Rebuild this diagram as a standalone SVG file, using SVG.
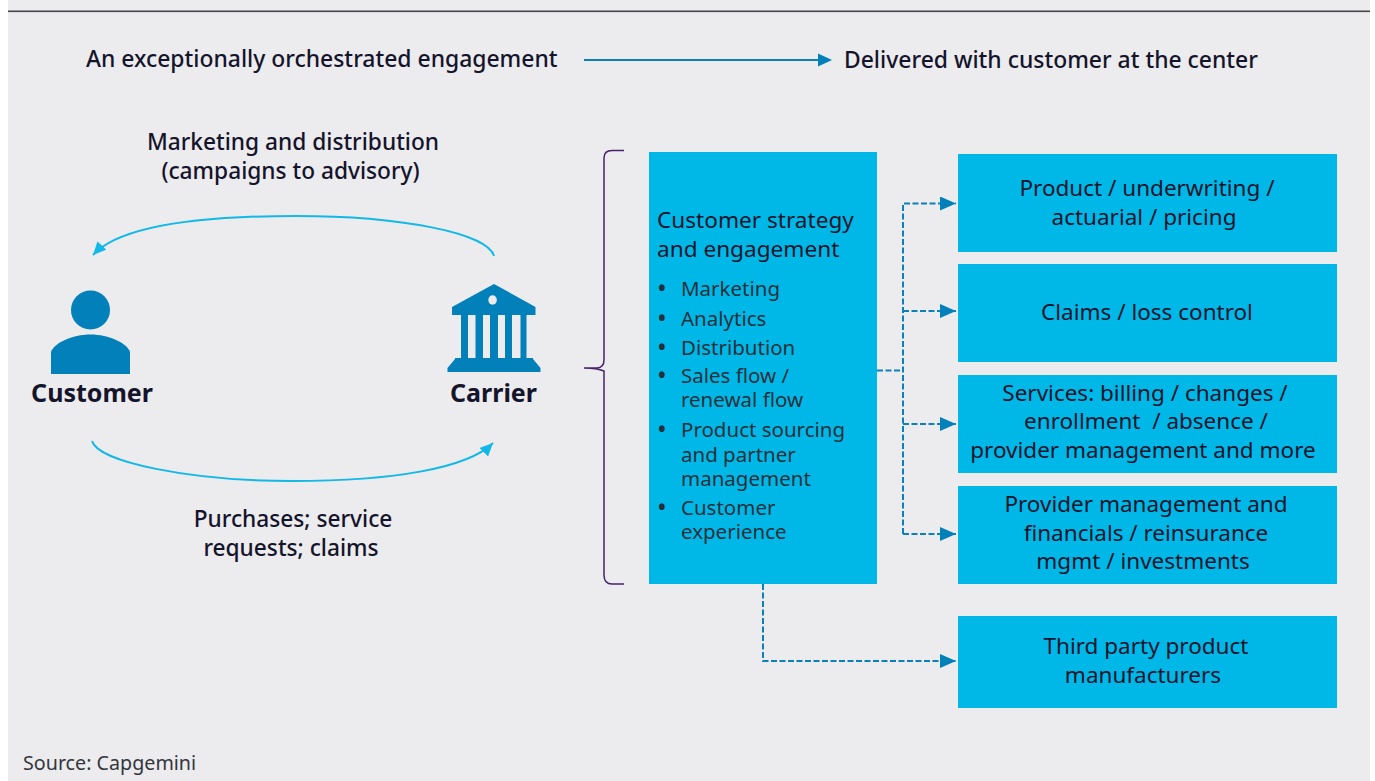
<svg xmlns="http://www.w3.org/2000/svg" width="1375" height="781" viewBox="0 0 1375 781">
<style>
text{font-family:"Noto Sans","Open Sans","Liberation Sans",sans-serif;fill:#14142b}
.h{font-size:22.9px;font-weight:500}
.m{font-size:22.5px;text-anchor:middle}
.mh{font-size:22.7px;font-weight:500;text-anchor:middle}
.b{font-size:25px;font-weight:700;text-anchor:middle}
.l{font-size:20.5px;fill:#22303a}
.bu{font-size:20.5px;font-weight:700;fill:#22303a}
.box{fill:#00b8e8}
.d{fill:none;stroke:#0c80ba;stroke-width:2;stroke-dasharray:6 2.5}
.c{fill:none;stroke:#12b9e8;stroke-width:2}
.ic{fill:#0280ba}
</style>
<defs>
<marker id="ad" markerUnits="userSpaceOnUse" markerWidth="16" markerHeight="14" refX="16" refY="7" orient="auto"><path d="M0 0L16 7L0 14Z" fill="#0280ba"/></marker>
<marker id="ac" markerUnits="userSpaceOnUse" markerWidth="13" markerHeight="14" refX="13" refY="6" orient="auto"><path d="M0 0L13 6L0 12Z" fill="#12b9e8"/></marker>
</defs>
<rect width="1375" height="781" fill="#fff"/>
<rect x="8" width="1362" height="781" fill="#ecebee"/>
<rect x="8" y="10.5" width="1362" height="1.6" fill="#44464c"/>
<text class="h" x="86" y="67">An exceptionally orchestrated engagement</text>
<text class="h" x="844" y="68">Delivered with customer at the center</text>
<g id="connectors">
<path d="M584 60H825" fill="none" stroke="#0c80ba" stroke-width="2"/>
<path d="M818 53.500L832 60L818 66.500Z" class="ic"/>
<path class="c" d="M494 256C488 233 400 216 296 216C192 216 118 228 93 255" marker-end="url(#ac)"/>
<path class="c" d="M92 441C98 462 190 481 292 481C394 481 468 468 493 443" marker-end="url(#ac)"/>
<path d="M624 150.500H612Q604 150.500 604 158V360Q604 367.500 597 368H584Q597 368 604 371V575Q604 584 612 584H624" fill="none" stroke="#46236a" stroke-width="1.500"/>
<path class="d" d="M877 370.500H903"/>
<path class="d" d="M903 534V203.500H956" marker-end="url(#ad)"/>
<path class="d" d="M903 311H956" marker-end="url(#ad)"/>
<path class="d" d="M903 424H956" marker-end="url(#ad)"/>
<path class="d" d="M903 534H956" marker-end="url(#ad)"/>
<path class="d" d="M763 584V661H956" marker-end="url(#ad)"/>
</g>
<g id="customer">
<ellipse class="ic" cx="90.500" cy="310" rx="19.500" ry="19.500"/>
<path class="ic" d="M51 374V352C54 343 72 334.500 90.500 334.500C109 334.500 127 343 130 352V374Z"/>
<text class="b" x="92" y="402">Customer</text>
</g>
<g id="carrier">
<path class="ic" d="M494 284L535.500 307V315H452V307Z"/>
<ellipse cx="492.600" cy="300" rx="4.300" ry="4.700" fill="#ecebee"/>
<path class="ic" d="M461 315H468V359H461ZM475.500 315H483V359H475.500ZM490 315H498V359H490ZM505 315H512V359H505ZM520.500 315H526.500V359H520.500Z"/>
<path class="ic" d="M455 359V358H533V359L540.500 368V372H447.500V368Z"/>
<text class="b" x="493.500" y="402">Carrier</text>
</g>
<text class="mh" x="293" y="150">Marketing and distribution</text>
<text class="mh" x="290.500" y="179">(campaigns to advisory)</text>
<text class="mh" x="293" y="527">Purchases; service</text>
<text class="mh" x="291" y="556">requests; claims</text>
<g id="strategy">
<rect class="box" x="649" y="152" width="228" height="432"/>
<text style="font-size:22.6px" x="657" y="228">Customer strategy</text>
<text style="font-size:22.6px" x="657" y="257">and engagement</text>
<text class="bu" x="658" y="296">•</text><text class="l" x="681" y="296">Marketing</text>
<text class="bu" x="658" y="326">•</text><text class="l" x="681" y="326">Analytics</text>
<text class="bu" x="658" y="355">•</text><text class="l" x="681" y="355">Distribution</text>
<text class="bu" x="658" y="383">•</text><text class="l" x="681" y="383">Sales flow /</text>
<text class="l" x="681" y="407">renewal flow</text>
<text class="bu" x="658" y="437">•</text><text class="l" x="681" y="437">Product sourcing</text>
<text class="l" x="681" y="462">and partner</text>
<text class="l" x="681" y="486">management</text>
<text class="bu" x="658" y="515">•</text><text class="l" x="681" y="515">Customer</text>
<text class="l" x="681" y="539">experience</text>
</g>
<g id="product"><rect class="box" x="958" y="154" width="379" height="98"/>
<text class="m" x="1147" y="196">Product / underwriting /</text><text class="m" x="1144" y="225">actuarial / pricing</text></g>
<g id="claims"><rect class="box" x="958" y="264" width="379" height="98"/>
<text class="m" x="1147" y="320">Claims / loss control</text></g>
<g id="services"><rect class="box" x="958" y="375" width="379" height="98"/>
<text class="m" x="1145" y="401">Services: billing / changes /</text><text class="m" x="1146" y="429" style="white-space:pre">enrollment  / absence /</text><text class="m" x="1143" y="458">provider management and more</text></g>
<g id="provider"><rect class="box" x="958" y="486" width="379" height="98"/>
<text class="m" x="1146" y="512">Provider management and</text><text class="m" x="1146" y="541">financials / reinsurance</text><text class="m" x="1143" y="569">mgmt / investments</text></g>
<g id="third"><rect class="box" x="958" y="616" width="379" height="92"/>
<text class="m" x="1146" y="654">Third party product</text><text class="m" x="1143" y="683">manufacturers</text></g>
<text style="font-size:19.700px;fill:#33363c" x="23" y="770">Source: Capgemini</text>
</svg>
